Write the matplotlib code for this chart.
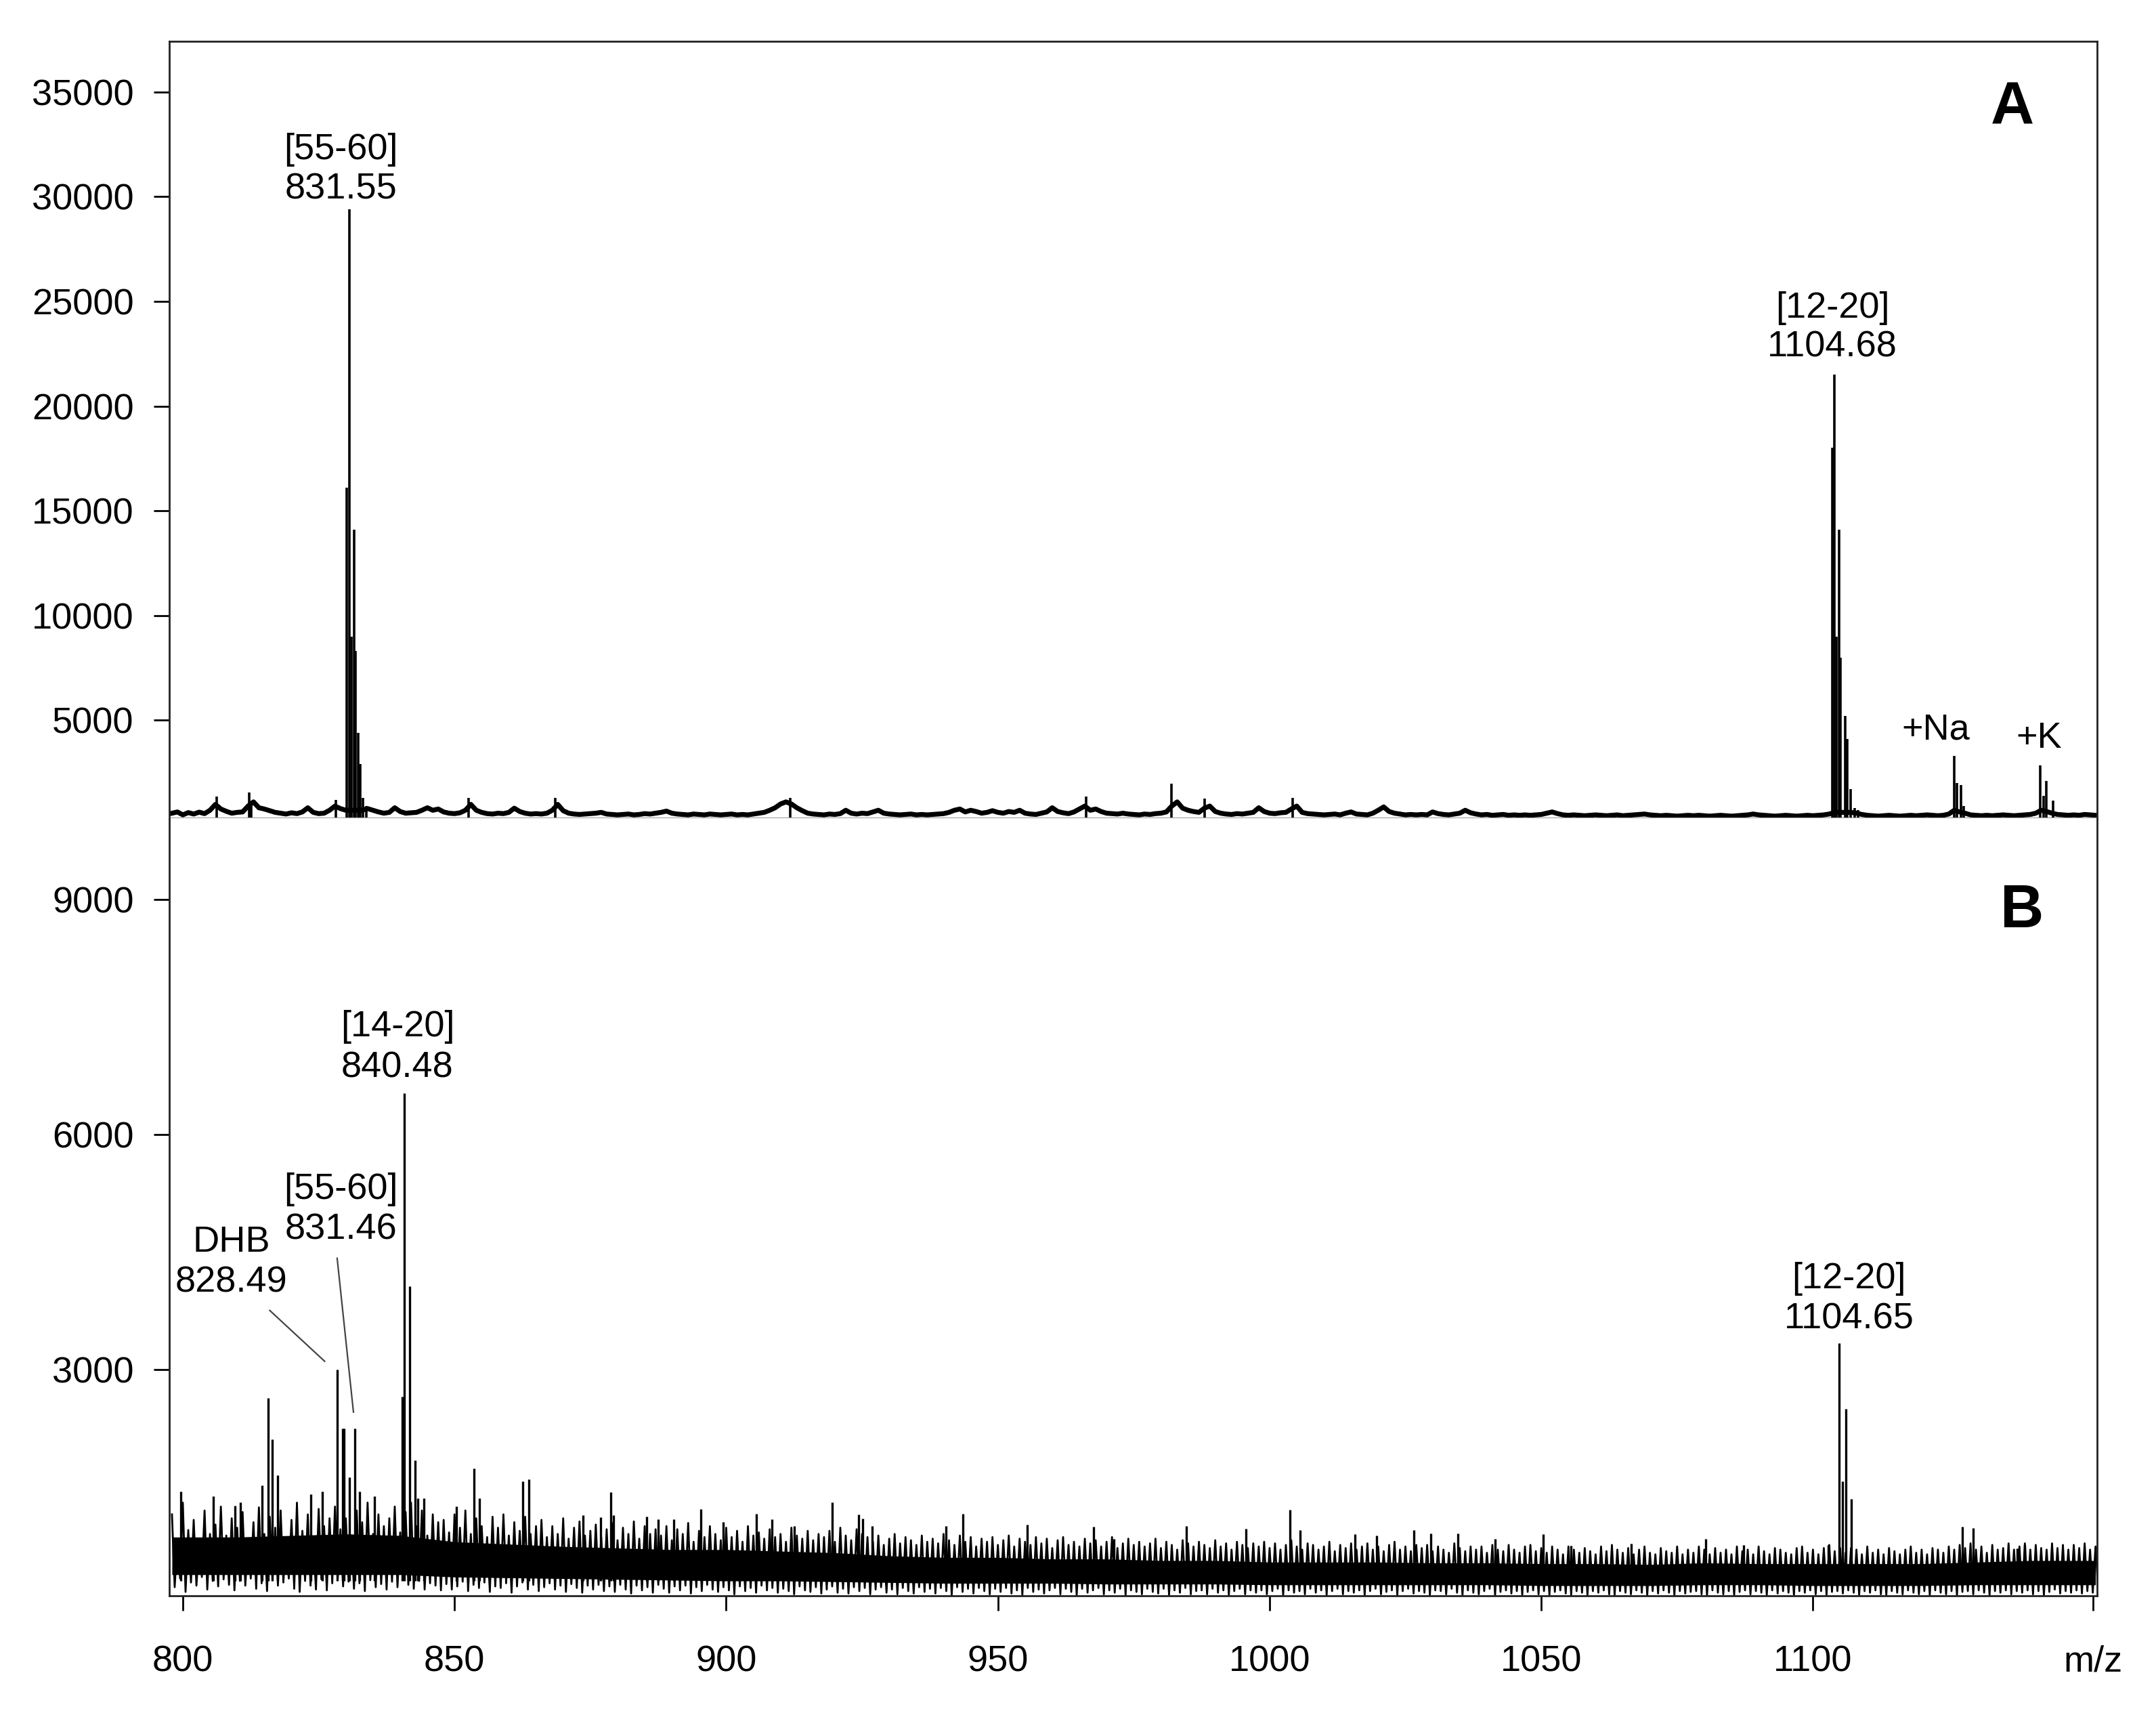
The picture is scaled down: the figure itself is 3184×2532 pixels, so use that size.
import numpy as np
import matplotlib.pyplot as plt

plt.rcParams['font.family'] = ['Liberation Sans', 'DejaVu Sans']

# ---- panel A: baseline trace, one value per m/z unit (798 ... 1152)
a_start = 798
a_base = [
    560, 620, 480, 590, 520, 610, 540, 700, 980, 760,
    650, 560, 600, 620, 900, 1100, 820, 760, 680, 600,
    560, 520, 580, 540, 620, 820, 600, 540, 560, 700,
    900, 780, 700, 700, 700, 700, 780, 700, 620, 560,
    600, 820, 640, 560, 580, 600, 700, 820, 700, 760,
    620, 560, 540, 580, 700, 980, 700, 600, 540, 520,
    560, 540, 600, 800, 640, 560, 520, 540, 520, 560,
    700, 980, 680, 560, 520, 500, 520, 540, 560, 600,
    520, 500, 480, 500, 520, 480, 500, 540, 520, 560,
    600, 660, 560, 520, 500, 480, 520, 500, 480, 520,
    500, 480, 500, 520, 480, 500, 480, 520, 560, 600,
    700, 820, 1000, 1100, 1000, 820, 680, 560, 520, 500,
    480, 520, 500, 540, 700, 560, 520, 560, 540, 620,
    700, 560, 520, 500, 480, 500, 520, 480, 500, 480,
    500, 520, 540, 600, 700, 760, 620, 700, 640, 560,
    600, 680, 600, 560, 640, 600, 700, 560, 520, 500,
    560, 620, 820, 640, 580, 540, 620, 760, 900, 700,
    760, 640, 560, 540, 520, 560, 520, 500, 480, 520,
    500, 540, 560, 620, 900, 1100, 800, 700, 640, 600,
    800, 900, 640, 560, 520, 500, 540, 520, 560, 600,
    820, 640, 560, 540, 580, 600, 760, 900, 600, 540,
    520, 500, 480, 500, 520, 480, 560, 620, 520, 500,
    480, 560, 700, 860, 640, 560, 520, 480, 500, 480,
    500, 480, 620, 540, 500, 480, 520, 560, 700, 580,
    520, 480, 500, 460, 480, 500, 460, 480, 460, 480,
    460, 480, 500, 560, 620, 540, 480, 460, 480, 460,
    440, 460, 480, 460, 440, 460, 480, 440, 460, 480,
    500, 520, 480, 460, 440, 460, 440, 420, 440, 460,
    440, 460, 440, 420, 440, 460, 440, 420, 440, 460,
    480, 520, 480, 460, 440, 420, 440, 460, 440, 420,
    440, 460, 440, 460, 480, 520, 600, 600, 600, 600,
    560, 500, 460, 440, 420, 440, 460, 440, 420, 440,
    460, 440, 460, 480, 460, 440, 460, 520, 700, 620,
    560, 480, 460, 440, 460, 440, 460, 480, 460, 440,
    460, 480, 500, 560, 700, 640, 560, 500, 480, 460,
    480, 460, 500, 480, 460,
]
a_peak_mz = [806.2, 812.2, 812.6, 828.2, 830.2, 830.6, 831.0, 831.5, 831.8,
             832.3, 832.6, 833.2, 833.8, 852.6, 868.6, 911.8, 966.2, 982.0,
             988.1, 1004.2, 1103.6, 1103.9, 1104.3, 1104.8, 1105.1, 1105.9,
             1106.3, 1106.9, 1107.7, 1108.3, 1126.0, 1126.5, 1127.2, 1127.8,
             1141.8, 1142.4, 1143.0, 1144.2]
a_peak_int = [1340, 1560, 1100, 1200, 16100, 29400, 9000, 14100, 8300,
              4400, 2900, 1300, 900, 1300, 1300, 1300, 1340, 1960,
              1250, 1300, 18000, 21500, 9000, 14100, 8000, 5200,
              4100, 1700, 800, 700, 3300, 2000, 1900, 900,
              2850, 1400, 2100, 1160]

# ---- panel B: noise tops / dips per m/z unit (798 ... 1152)
b_start = 798
b_hi = [
    1150, 820, 1300, 950, 1080, 760, 1200, 900, 1020, 1250,
    880, 1100, 980, 1180, 820, 1050, 1240, 900, 1120, 980,
    1200, 860, 1080, 1300, 940, 1150, 820, 1220, 1000, 1100,
    1250, 960, 1100, 880, 1200, 1050, 1300, 900, 1150, 1000,
    1100, 1250, 920, 1180, 1300, 1000, 1200, 880, 1150, 1050,
    1080, 920, 1150, 980, 1200, 900, 1100, 1000, 860, 1120,
    980, 1150, 880, 1050, 940, 1120, 900, 1000, 1080, 860,
    1000, 900, 1100, 840, 980, 1060, 880, 940, 1020, 860,
    960, 1040, 820, 980, 900, 1060, 840, 1000, 900, 960,
    880, 1000, 820, 960, 900, 1040, 800, 940, 860, 1000,
    900, 820, 980, 860, 940, 800, 1000, 880, 920, 840,
    960, 860, 900, 800, 980, 880, 840, 940, 820, 900,
    860, 940, 800, 980, 880, 820, 960, 900, 860, 800,
    880, 760, 840, 900, 780, 860, 820, 760, 880, 800,
    840, 780, 900, 820, 760, 880, 800, 860, 740, 840,
    800, 860, 760, 820, 880, 740, 840, 800, 760, 860,
    780, 840, 720, 820, 860, 760, 800, 740, 840, 780,
    820, 740, 800, 860, 720, 780, 840, 760, 800, 740,
    780, 840, 720, 800, 760, 700, 820, 780, 740, 800,
    760, 720, 820, 740, 780, 700, 800, 760, 720, 780,
    740, 800, 720, 780, 700, 760, 820, 740, 700, 780,
    760, 700, 740, 800, 680, 760, 720, 780, 700, 740,
    780, 700, 740, 680, 760, 800, 700, 740, 680, 760,
    720, 760, 680, 740, 700, 660, 780, 720, 680, 740,
    700, 740, 660, 760, 700, 680, 760, 700, 660, 740,
    760, 680, 720, 660, 740, 700, 640, 740, 700, 660,
    720, 680, 640, 740, 680, 760, 700, 660, 720, 640,
    700, 740, 660, 640, 720, 680, 660, 740, 640, 700,
    660, 740, 700, 640, 720, 660, 700, 640, 740, 680,
    700, 640, 740, 680, 640, 720, 700, 660, 640, 720,
    740, 660, 700, 640, 720, 760, 680, 720, 660, 720,
    700, 640, 740, 660, 700, 640, 720, 680, 640, 700,
    740, 660, 700, 640, 720, 700, 660, 740, 700, 760,
    720, 780, 700, 740, 660, 760, 700, 720, 780, 700,
    740, 780, 700, 760, 720, 700, 780, 720, 760, 700,
    760, 720, 780, 700, 740,
]
b_lo = [
    220, 330, 160, 280, 240, 350, 190, 300, 230, 320,
    250, 180, 300, 240, 330, 200, 270, 170, 310, 240,
    280, 330, 200, 160, 300, 240, 190, 320, 180, 270,
    330, 230, 290, 200, 270, 170, 310, 220, 260, 190,
    290, 220, 320, 250, 200, 300, 190, 270, 240, 180,
    260, 190, 230, 290, 170, 250, 210, 280, 160, 230,
    210, 270, 150, 230, 280, 190, 250, 170, 220, 270,
    190, 240, 160, 260, 210, 150, 240, 190, 250, 170,
    230, 160, 250, 190, 140, 240, 180, 220, 150, 250,
    200, 150, 230, 180, 240, 140, 220, 170, 250, 190,
    160, 220, 180, 130, 230, 170, 210, 150, 240, 180,
    210, 150, 200, 170, 130, 230, 180, 160, 220, 140,
    190, 230, 150, 200, 140, 220, 170, 210, 130, 190,
    220, 150, 190, 130, 210, 170, 140, 220, 160, 200,
    140, 210, 170, 120, 220, 160, 200, 140, 210, 170,
    130, 200, 160, 210, 140, 180, 120, 210, 160, 190,
    140, 180, 210, 130, 200, 160, 120, 200, 150, 180,
    210, 130, 180, 150, 200, 120, 180, 160, 130, 200,
    160, 140, 200, 120, 180, 150, 210, 130, 170, 180,
    130, 200, 150, 180, 120, 170, 200, 130, 180, 150,
    180, 130, 170, 200, 120, 180, 150, 170, 130, 200,
    150, 180, 120, 170, 200, 130, 170, 150, 180, 120,
    170, 200, 130, 160, 180, 120, 170, 200, 140, 170,
    150, 120, 180, 170, 130, 200, 150, 120, 180, 150,
    130, 170, 200, 120, 160, 180, 140, 170, 120, 160,
    180, 130, 170, 120, 160, 180, 140, 120, 170, 150,
    120, 170, 150, 180, 130, 120, 170, 150, 130, 180,
    150, 120, 170, 140, 180, 150, 120, 170, 140, 160,
    170, 130, 120, 180, 150, 130, 170, 120, 160, 180,
    130, 170, 150, 120, 180, 140, 170, 150, 120, 170,
    150, 180, 130, 170, 120, 160, 170, 140, 180, 150,
    120, 170, 150, 180, 130, 120, 170, 150, 130, 180,
    150, 130, 170, 120, 180, 150, 130, 170, 120, 160,
    170, 130, 180, 150, 120, 170, 150, 180, 130, 170,
    150, 180, 130, 170, 120, 160, 190, 140, 170, 150,
    180, 140, 170, 150, 180,
]
# dense core of the noise band
b_core_mz = [798, 810, 820, 830, 840, 850, 860, 870, 880, 890, 900, 910, 920,
             930, 940, 950, 960, 970, 980, 990, 1000, 1010, 1020, 1030, 1040,
             1050, 1060, 1070, 1080, 1090, 1100, 1110, 1120, 1130, 1140, 1152]
b_core_lo = [380, 380, 380, 380, 380, 350, 340, 330, 320, 310, 300, 300, 290,
             280, 270, 270, 270, 260, 260, 260, 250, 250, 250, 250, 250,
             240, 240, 240, 250, 250, 240, 240, 240, 250, 250, 250]
b_core_hi = [860, 860, 880, 900, 880, 800, 770, 740, 720, 700, 700, 680, 660,
             620, 600, 600, 580, 580, 560, 560, 540, 540, 540, 530, 530,
             520, 520, 510, 530, 520, 520, 520, 520, 540, 560, 560]
b_peak_mz = [799.6, 805.6, 809.6, 810.6, 814.6, 815.7, 816.5, 817.5, 823.5,
             825.7, 828.4, 829.4, 829.7, 830.6, 831.7, 832.5, 835.3, 840.4,
             840.7, 841.7, 842.7, 843.3, 844.4, 850.3, 853.6, 854.6, 862.6,
             863.7, 873.6, 876.9, 878.7, 879.3, 885.3, 887.5, 890.3, 895.3,
             899.4, 905.6, 908.4, 912.5, 919.5, 924.4, 925.1, 926.8, 940.4,
             943.5, 955.4, 967.6, 971.4, 984.7, 995.6, 1003.8, 1005.6, 1015.7,
             1019.7, 1026.6, 1029.7, 1034.7, 1041.5, 1050.3, 1055.5, 1066.6,
             1080.2, 1087.2, 1102.8, 1104.8, 1105.45, 1106.0, 1107.0, 1127.5,
             1129.5, 1137.6, 1139.0]
b_peak_int = [1438, 1384, 1260, 1303, 1519, 2633, 2111, 1653, 1411,
              1438, 3000, 2246, 2246, 1626, 2246, 1438, 1384, 2650,
              6527, 4060, 1842, 1357, 1357, 1250, 1734, 1357, 1572,
              1600, 1142, 1115, 1435, 1140, 1120, 1090, 1090, 1220,
              1050, 1155, 1085, 1005, 1305, 1150, 1100, 1005, 1000,
              1160, 1015, 990, 835, 1000, 970, 1210, 950, 900,
              880, 950, 910, 910, 840, 900, 750, 780,
              840, 763, 763, 3337, 1573, 2500, 1350, 995,
              977, 715, 760]

x_ticks = [800, 850, 900, 950, 1000, 1050, 1100, 1151.5]
x_labels = ['800', '850', '900', '950', '1000', '1050', '1100', 'm/z']
a_yticks = [5000, 10000, 15000, 20000, 25000, 30000, 35000]
b_yticks = [3000, 6000, 9000]

fs = 19.5
fig = plt.figure(figsize=(15.92, 12.66), dpi=200)
axA = fig.add_axes([0.0785, 0.5229, 0.8942, 0.4530])
axB = fig.add_axes([0.0785, 0.0695, 0.8942, 0.4534])

# panel A
a_mz = a_start + np.arange(len(a_base))
axA.vlines(a_peak_mz, 0, a_peak_int, color='black', lw=1.3)
axA.plot(a_mz, a_base, color='black', lw=2.6)
axA.set_xlim(797.5, 1152.3)
axA.set_ylim(320, 37420)
axA.set_yticks(a_yticks)
axA.set_xticks([])
axA.text(829.1, 31300, '[55-60]\n831.55', ha='center', va='center', fontsize=fs, linespacing=1.2)
axA.text(1103.6, 23750, '[12-20]\n1104.68', ha='center', va='center', fontsize=fs, linespacing=1.2)
axA.text(1122.6, 4530, '+Na', ha='center', va='center', fontsize=fs)
axA.text(1141.6, 4130, '+K', ha='center', va='center', fontsize=fs)
axA.text(0.956, 0.913, 'A', transform=axA.transAxes, ha='center', va='center',
         fontsize=32, fontweight='bold')

# panel B
b_mz = b_start + np.arange(len(b_hi))
zz_x = np.column_stack([b_mz, b_mz + 0.5]).ravel()
zz_y = np.column_stack([b_hi, b_lo]).ravel()
axB.fill_between(b_core_mz, b_core_lo, b_core_hi, color='black', lw=0)
axB.plot(zz_x, zz_y, color='black', lw=1.0)
axB.vlines(b_peak_mz, 300, b_peak_int, color='black', lw=1.2)
axB.set_xlim(797.5, 1152.3)
axB.set_ylim(110, 10040)
axB.set_yticks(b_yticks)
axB.set_xticks(x_ticks)
axB.set_xticklabels(x_labels)
axB.text(839.5, 7114, '[14-20]\n840.48', ha='center', va='center', fontsize=fs, linespacing=1.25)
axB.text(829.1, 5044, '[55-60]\n831.46', ha='center', va='center', fontsize=fs, linespacing=1.25)
axB.text(808.9, 4368, 'DHB\n828.49', ha='center', va='center', fontsize=fs, linespacing=1.25)
axB.plot([816.0, 826.1], [3754, 3105], color='#444444', lw=0.8)
axB.plot([828.4, 831.4], [4421, 2456], color='#444444', lw=0.8)
axB.text(1106.6, 3904, '[12-20]\n1104.65', ha='center', va='center', fontsize=fs, linespacing=1.25)
axB.text(0.961, 0.88, 'B', transform=axB.transAxes, ha='center', va='center',
         fontsize=32, fontweight='bold')

for ax in (axA, axB):
    for s in ax.spines.values():
        s.set_linewidth(1.0)
        s.set_color('#222222')
    ax.tick_params(axis='y', direction='out', length=8.3, width=1.0, pad=10.5, labelsize=fs)
axA.spines['bottom'].set_color('#a0a0a0')
axA.spines['bottom'].set_linewidth(0.8)
axB.spines['top'].set_visible(False)
axB.tick_params(axis='x', direction='out', length=8, width=1.0, pad=18, labelsize=fs)

fig.savefig('out.png', dpi=200)
